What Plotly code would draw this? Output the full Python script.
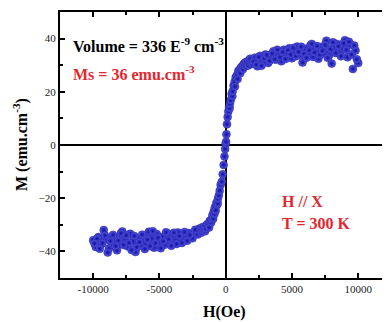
import plotly.graph_objects as go

# ── 데이터 ────────────────────────────────────────────────────────────
# 음의 포화 영역 (두 번 측정)
h_neg_a = [-2000, -2200, -2400, -2600, -2800, -3000, -3200, -3400, -3600, -3800,
           -4000, -4200, -4400, -4600, -4800, -5000, -5200, -5400, -5600, -5800,
           -6000, -6200, -6400, -6600, -6800, -7000, -7200, -7400, -7600, -7800,
           -8000, -8200, -8400, -8600, -8800, -9000, -9200, -9400, -9600, -9800, -10000]
m_neg_a = [-31.5, -32.8, -33.0, -34.2, -33.1, -35.0, -33.6, -34.8, -32.9, -36.1,
           -34.0, -35.8, -33.2, -37.5, -34.6, -36.4, -33.5, -38.6, -35.2, -32.6,
           -36.9, -34.1, -37.8, -35.5, -40.2, -36.3, -33.4, -38.1, -35.0, -32.5,
           -37.2, -39.6, -34.8, -36.7, -38.9, -35.3, -32.0, -37.4, -34.6, -38.3, -35.8]
h_neg_b = [-2100, -2300, -2500, -2700, -2900, -3100, -3300, -3500, -3700, -3900,
           -4100, -4300, -4500, -4700, -4900, -5100, -5300, -5500, -5700, -5900,
           -6100, -6300, -6500, -6700, -6900, -7100, -7300, -7500, -7700, -7900,
           -8100, -8300, -8500, -8700, -8900, -9100, -9300, -9500, -9700, -9900]
m_neg_b = [-33.6, -31.9, -35.1, -33.8, -36.0, -32.7, -36.8, -34.3, -37.2, -33.0,
           -37.9, -35.4, -32.8, -36.2, -38.8, -34.8, -36.9, -32.4, -38.0, -35.6,
           -39.1, -33.7, -36.5, -38.4, -34.2, -39.5, -36.8, -34.0, -37.6, -33.2,
           -35.9, -38.0, -33.8, -36.1, -40.4, -34.0, -36.9, -39.0, -35.2, -37.0]

# 반전 영역
h_sw = [-1900, -1850, -1800, -1700, -1600, -1550, -1500, -1400, -1300, -1250,
        -1200, -1100, -1050, -1000, -950, -900, -850, -820, -750, -700,
        -650, -600, -590, -520, -450, -380, -290, -220, -150, -90,
        -40, 0, 30, 60, 100, 150, 200, 260, 300, 320,
        380, 450, 500, 520, 600, 680, 700, 760, 850, 900,
        950, 1050, 1100, 1150, 1250, 1300, 1350, 1450, 1500, 1550,
        1650, 1700, 1750, 1850, 1900, 1950]
m_sw = [-31.8, -33.0, -31.0, -32.2, -30.6, -32.4, -31.5, -29.8, -30.4, -31.0,
        -28.5, -29.2, -28.0, -26.4, -27.8, -25.0, -26.0, -23.5, -24.6, -21.8,
        -22.5, -22.0, -20.3, -19.0, -17.2, -15.0, -13.8, -11.0, -7.5, -4.3,
        -1.5, 0.5, 1.2, 4.0, 7.8, 10.5, 12.6, 14.2, 13.8, 15.4,
        16.8, 19.2, 18.3, 20.1, 22.3, 23.8, 22.0, 25.5, 26.2, 24.8,
        27.8, 28.3, 27.0, 29.1, 29.6, 28.5, 30.4, 30.9, 29.6, 31.2,
        30.2, 29.9, 31.8, 32.4, 30.5, 31.0]

# 양의 포화 영역 (두 번 측정)
h_pos_a = [2000, 2200, 2400, 2600, 2800, 3000, 3200, 3400, 3600, 3800,
           4000, 4200, 4400, 4600, 4800, 5000, 5200, 5400, 5600, 5800,
           6000, 6200, 6400, 6600, 6800, 7000, 7200, 7400, 7600, 7800,
           8000, 8200, 8400, 8600, 8800, 9000, 9200, 9400, 9600, 9800, 10000]
m_pos_a = [30.5, 32.8, 29.6, 33.5, 31.2, 34.0, 30.8, 33.0, 35.2, 32.1,
           34.6, 31.5, 35.8, 33.2, 36.4, 32.6, 35.1, 37.0, 33.8, 31.0,
           36.2, 34.0, 37.5, 33.1, 35.9, 32.4, 36.8, 34.5, 39.2, 33.6,
           30.6, 36.7, 38.0, 34.2, 36.5, 39.4, 33.0, 37.8, 28.6, 35.5, 30.8]
h_pos_b = [2100, 2300, 2500, 2700, 2900, 3100, 3300, 3500, 3700, 3900,
           4100, 4300, 4500, 4700, 4900, 5100, 5300, 5500, 5700, 5900,
           6100, 6300, 6500, 6700, 6900, 7100, 7300, 7500, 7700, 7900,
           8100, 8300, 8500, 8700, 8900, 9100, 9300, 9500, 9700, 9900]
m_pos_b = [31.4, 30.2, 33.1, 29.8, 32.6, 33.8, 31.6, 34.4, 32.2, 35.8,
           33.0, 34.9, 32.3, 35.6, 34.0, 36.5, 33.4, 35.0, 36.9, 34.3,
           32.8, 35.6, 38.0, 34.8, 37.2, 33.9, 35.4, 37.6, 32.8, 36.0,
           38.6, 34.6, 37.1, 33.4, 38.2, 35.8, 38.8, 34.0, 37.4, 32.2]

x_ticks = [-10000, -5000, 0, 5000, 10000]
x_ticktext = ["-10000", "-5000", "0", "5000", "10000"]
y_ticks = [-40, -20, 0, 20, 40]

SERIF = "Liberation Serif, Times New Roman, serif"
RED = "#e5262e"

# ── 차트 ─────────────────────────────────────────────────────────────────────
h_all = h_neg_a + h_neg_b + h_sw + h_pos_a + h_pos_b
m_all = m_neg_a + m_neg_b + m_sw + m_pos_a + m_pos_b

fig = go.Figure()
fig.add_trace(go.Scatter(
    x=h_all, y=m_all, mode="markers",
    marker=dict(size=8, color="#5a5aec",
                gradient=dict(type="radial", color="#0c0c9c"),
                line=dict(color="#08087e", width=0.4)),
    showlegend=False,
))

axis_common = dict(
    showline=True, linecolor="black", linewidth=2, mirror="ticks",
    ticks="inside", ticklen=5, tickwidth=1.5, tickcolor="black",
    showgrid=False, zeroline=True, zerolinecolor="black", zerolinewidth=2,
    tickfont=dict(family=SERIF, size=11, color="#222"),
    automargin=False,
)

fig.update_xaxes(
    range=[-12500, 12250], tickvals=x_ticks, ticktext=x_ticktext,
    minor=dict(ticks="inside", dtick=2500, tick0=0, ticklen=3, tickcolor="black"),
    **axis_common,
)
fig.update_yaxes(
    range=[-50, 50], tickvals=y_ticks,
    minor=dict(ticks="inside", dtick=10, tick0=0, ticklen=3, tickcolor="black"),
    **axis_common,
)

# 축 제목
fig.add_annotation(xref="paper", yref="paper", x=0, y=0.5, xshift=-40,
                   xanchor="center", yanchor="middle",
                   text="<b>M (emu.cm<sup>-3</sup>)</b>", textangle=-90, showarrow=False,
                   font=dict(family=SERIF, size=16, color="black"))
fig.add_annotation(xref="paper", yref="paper", x=0.5, y=0, yshift=-34,
                   xanchor="center", yanchor="middle",
                   text="<b>H(Oe)</b>", showarrow=False,
                   font=dict(family=SERIF, size=16, color="black"))

notes = [
    ("Volume = 336 E<sup>-9</sup> cm<sup>-3</sup>", -11700, 37.7, "black"),
    ("Ms = 36 emu.cm<sup>-3</sup>", -11700, 27.2, RED),
    ("H // X", 4100, -21.1, RED),
    ("T = 300 K", 4100, -29.4, RED),
]
for text, xx, yy, col in notes:
    fig.add_annotation(x=xx, y=yy, text=f"<b>{text}</b>", showarrow=False,
                       xanchor="left", yanchor="middle",
                       font=dict(family=SERIF, size=16, color=col))

# 페이지 여백(8px)을 감안해 크기를 줄임
fig.update_layout(
    width=382, height=314,
    margin=dict(l=52, r=2, t=4, b=44),
    paper_bgcolor="white", plot_bgcolor="white",
)

fig.write_html("out.html")
